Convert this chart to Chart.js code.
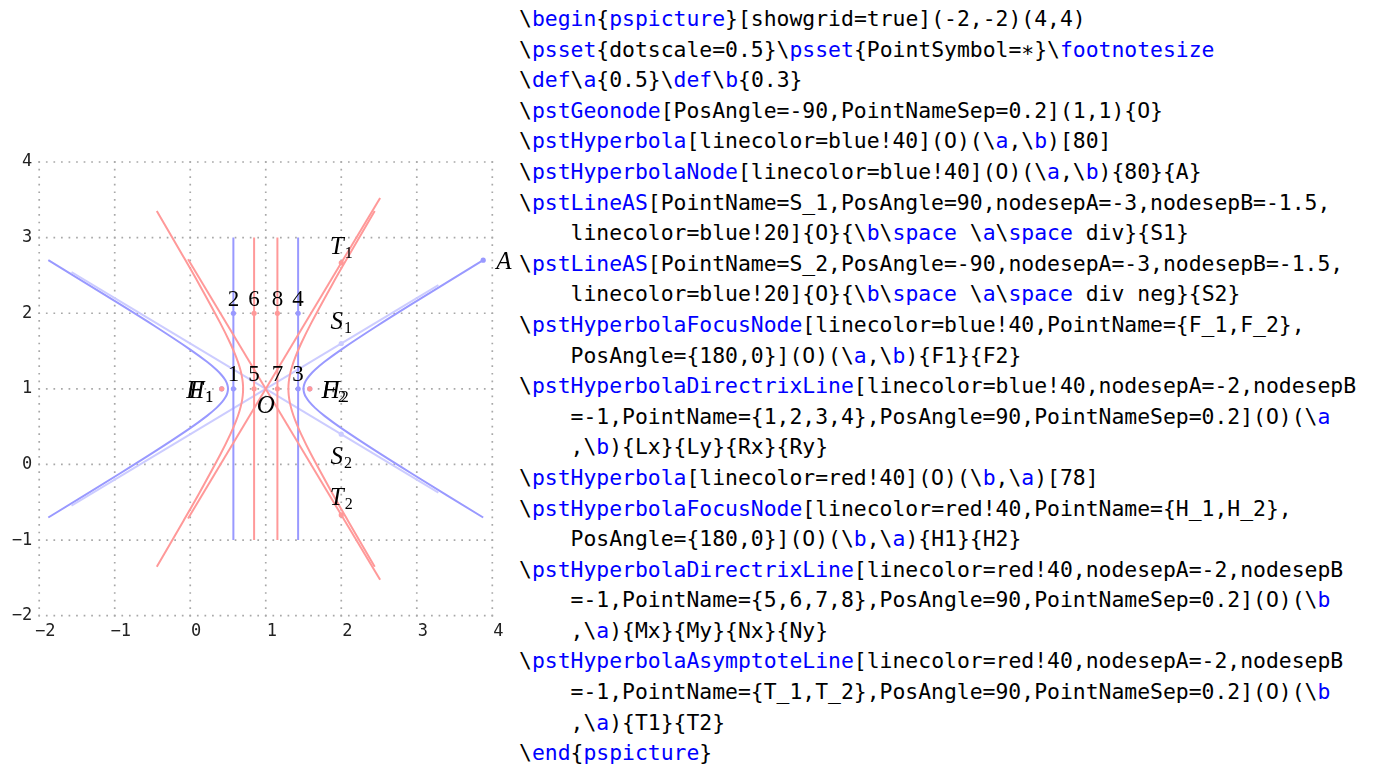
<!DOCTYPE html>
<html>
<head>
<meta charset="utf-8">
<script src="https://cdn.jsdelivr.net/npm/chart.js@4.4.1/dist/chart.umd.min.js"></script>
<style>
  html,body{margin:0;padding:0;background:#fff;}
  #wrap{position:absolute;left:0;top:0;width:518px;height:769px;}
  #code{position:absolute;left:519px;top:4px;margin:0;font-family:"DejaVu Sans Mono",monospace;font-size:21.4px;line-height:30.6px;color:#000;white-space:pre;}
  .k{color:#0000ff;}
</style>
</head>
<body>
<div id="wrap"><canvas id="c" width="518" height="769"></canvas></div>
<pre id="code"></pre>
<script type="text/plain" id="src">\begin{pspicture}[showgrid=true](-2,-2)(4,4)
\psset{dotscale=0.5}\psset{PointSymbol=∗}\footnotesize
\def\a{0.5}\def\b{0.3}
\pstGeonode[PosAngle=-90,PointNameSep=0.2](1,1){O}
\pstHyperbola[linecolor=blue!40](O)(\a,\b)[80]
\pstHyperbolaNode[linecolor=blue!40](O)(\a,\b){80}{A}
\pstLineAS[PointName=S_1,PosAngle=90,nodesepA=-3,nodesepB=-1.5,
    linecolor=blue!20]{O}{\b\space \a\space div}{S1}
\pstLineAS[PointName=S_2,PosAngle=-90,nodesepA=-3,nodesepB=-1.5,
    linecolor=blue!20]{O}{\b\space \a\space div neg}{S2}
\pstHyperbolaFocusNode[linecolor=blue!40,PointName={F_1,F_2},
    PosAngle={180,0}](O)(\a,\b){F1}{F2}
\pstHyperbolaDirectrixLine[linecolor=blue!40,nodesepA=-2,nodesepB
    =-1,PointName={1,2,3,4},PosAngle=90,PointNameSep=0.2](O)(\a
    ,\b){Lx}{Ly}{Rx}{Ry}
\pstHyperbola[linecolor=red!40](O)(\b,\a)[78]
\pstHyperbolaFocusNode[linecolor=red!40,PointName={H_1,H_2},
    PosAngle={180,0}](O)(\b,\a){H1}{H2}
\pstHyperbolaDirectrixLine[linecolor=red!40,nodesepA=-2,nodesepB
    =-1,PointName={5,6,7,8},PosAngle=90,PointNameSep=0.2](O)(\b
    ,\a){Mx}{My}{Nx}{Ny}
\pstHyperbolaAsymptoteLine[linecolor=red!40,nodesepA=-2,nodesepB
    =-1,PointName={T_1,T_2},PosAngle=90,PointNameSep=0.2](O)(\b
    ,\a){T1}{T2}
\end{pspicture}</script>
<script>
// ---------- data ----------
const xTickValues = [-2, -1, 0, 1, 2, 3, 4];
const yTickValues = [-2, -1, 0, 1, 2, 3, 4];
const xTickLabels = ['−2', '−1', '0', '1', '2', '3', '4'];
const yTickLabels = ['−2', '−1', '0', '1', '2', '3', '4'];

// blue hyperbola (centre O, a=0.5, b=0.3), both branches
const blueRightX = [3.8794, 2.9319, 2.4619, 2.0, 1.7779, 1.6527, 1.5774, 1.5321, 1.5077, 1.5, 1.5077, 1.5321, 1.5774, 1.6527, 1.7779, 2.0, 2.4619, 2.9319, 3.8794];
const blueLeftX  = [-1.8794, -0.9319, -0.4619, 0.0, 0.2221, 0.3473, 0.4226, 0.4679, 0.4923, 0.5, 0.4923, 0.4679, 0.4226, 0.3473, 0.2221, 0.0, -0.4619, -0.9319, -1.8794];
const blueY      = [-0.7014, -0.1196, 0.1758, 0.4804, 0.6425, 0.7483, 0.8268, 0.8908, 0.9471, 1.0, 1.0529, 1.1092, 1.1732, 1.2517, 1.3575, 1.5196, 1.8242, 2.1196, 2.7014];

// red hyperbola (centre O, a=0.3, b=0.5), both branches
const redRightX = [2.4429, 2.0884, 1.8771, 1.6, 1.4667, 1.3916, 1.3464, 1.3193, 1.3046, 1.3, 1.3046, 1.3193, 1.3464, 1.3916, 1.4667, 1.6, 1.8771, 2.0884, 2.4429];
const redLeftX  = [-0.4429, -0.0884, 0.1229, 0.4, 0.5333, 0.6084, 0.6536, 0.6807, 0.6954, 0.7, 0.6954, 0.6807, 0.6536, 0.6084, 0.5333, 0.4, 0.1229, -0.0884, -0.4429];
const redY      = [-1.3523, -0.7437, -0.3737, 0.1340, 0.4041, 0.5804, 0.7113, 0.8180, 0.9118, 1.0, 1.0882, 1.1820, 1.2887, 1.4196, 1.5959, 1.8660, 2.3737, 2.7437, 3.3523];

// straight lines [x0, x1], [y0, y1]
const s1LineX = [-1.5725, 3.2862], s1LineY = [-0.5435, 2.3717];
const s2LineX = [-1.5725, 3.2862], s2LineY = [2.5435, -0.3717];
const blueDirLX = [0.5713, 0.5713], blueDirRX = [1.4287, 1.4287], dirY = [-1, 3];
const redDirMX = [0.8457, 0.8457], redDirNX = [1.1543, 1.1543];
const t1LineX = [-0.0290, 2.5145], t1LineY = [-0.7150, 3.5242];
const t2LineX = [-0.0290, 2.5145], t2LineY = [2.7150, -1.5242];

// named points
const pointA   = {x: 3.8794, y: 2.7014};
const pointO   = {x: 1, y: 1};
const pointS1  = {x: 2, y: 1.6};
const pointS2  = {x: 2, y: 0.4};
const fociX    = [0.4169, 1.5831], fociY = [1, 1];
const blueDirPtsX = [0.5713, 0.5713, 1.4287, 1.4287], blueDirPtsY = [1, 2, 1, 2], blueDirNames = ['1', '2', '3', '4'];
const redDirPtsX  = [0.8457, 0.8457, 1.1543, 1.1543], redDirPtsY  = [1, 2, 1, 2], redDirNames  = ['5', '6', '7', '8'];
const pointT1  = {x: 2, y: 2.6667};
const pointT2  = {x: 2, y: -0.6667};

// ---------- styles ----------
const BLUE40 = '#9999ff', BLUE20 = '#ccccff', RED40 = '#ff9999';
const zip = (xs, ys) => xs.map((x, i) => ({x, y: ys[i]}));

const items = [];
function addLine(xs, ys, color, curved) {
  items.push({data: zip(xs, ys), showLine: true, borderColor: color, borderWidth: 2, pointRadius: 0,
              pointHoverRadius: 0, fill: false, tension: curved ? 0.35 : 0});
}
function addDots(pts, color) {
  items.push({data: pts, showLine: false, pointRadius: 2.6, pointHoverRadius: 2.6,
              pointBackgroundColor: color, pointBorderWidth: 0, borderColor: color});
}
addLine(blueLeftX, blueY, BLUE40, true);
addLine(blueRightX, blueY, BLUE40, true);
addDots([pointA], BLUE40);
addLine(s1LineX, s1LineY, BLUE20, false); addDots([pointS1], BLUE20);
addLine(s2LineX, s2LineY, BLUE20, false); addDots([pointS2], BLUE20);
addDots(zip(fociX, fociY), BLUE40);
addLine(blueDirLX, dirY, BLUE40, false); addLine(blueDirRX, dirY, BLUE40, false);
addDots(zip(blueDirPtsX, blueDirPtsY), BLUE40);
addLine(redLeftX, redY, RED40, true);
addLine(redRightX, redY, RED40, true);
addDots(zip(fociX, fociY), RED40);
addLine(redDirMX, dirY, RED40, false); addLine(redDirNX, dirY, RED40, false);
addDots(zip(redDirPtsX, redDirPtsY), RED40);
addLine(t1LineX, t1LineY, RED40, false);
addLine(t2LineX, t2LineY, RED40, false);
addDots([pointT1, pointT2], RED40);
const N = items.length;
items.forEach((d, i) => d.order = N - i);

// dotted grid drawn on the library's scales
const gridPlugin = {
  id: 'dotgrid',
  beforeDatasetsDraw(chart) {
    const {ctx, chartArea: a, scales: {x, y}} = chart;
    const stepX = x.getPixelForValue(0.1) - x.getPixelForValue(0);
    const stepY = y.getPixelForValue(0) - y.getPixelForValue(0.1);
    const d = 1.7;
    ctx.save();
    ctx.strokeStyle = '#a8a8a8';
    ctx.lineWidth = d;
    ctx.setLineDash([d, stepY - d]);
    xTickValues.forEach(v => {
      const px = x.getPixelForValue(v);
      ctx.beginPath(); ctx.moveTo(px, a.top - d / 2); ctx.lineTo(px, a.bottom + d); ctx.stroke();
    });
    ctx.setLineDash([d, stepX - d]);
    yTickValues.forEach(v => {
      const py = y.getPixelForValue(v);
      ctx.beginPath(); ctx.moveTo(a.left - d / 2, py); ctx.lineTo(a.right + d, py); ctx.stroke();
    });
    ctx.restore();
  }
};

function drawName(ctx, main, sub, px, py, mode, italic) {
  const mf = italic ? 'italic 25px "Liberation Serif"' : '23px "Liberation Serif"';
  const sf = '16px "Liberation Serif"';
  ctx.font = mf; const mw = ctx.measureText(main).width;
  ctx.font = sf; const sw = sub ? ctx.measureText(sub).width + 1 : 0;
  const w = mw + sw;
  const left = mode === 'center' ? px - w / 2 : (mode === 'right' ? px - w : px);
  ctx.textAlign = 'left'; ctx.textBaseline = 'alphabetic';
  ctx.font = mf; ctx.fillText(main, left, py + (italic ? 8 : 7.5));
  if (sub) { ctx.font = sf; ctx.fillText(sub, left + mw + 1, py + 12); }
}

const labelPlugin = {
  id: 'names',
  afterDatasetsDraw(chart) {
    const {ctx, scales: {x, y}} = chart;
    const P = p => [x.getPixelForValue(p.x), y.getPixelForValue(p.y)];
    ctx.save();
    ctx.fillStyle = '#000';
    let q;
    q = P(pointO);  drawName(ctx, 'O', '', q[0], q[1] + 16.5, 'center', true);
    q = P(pointA);  drawName(ctx, 'A', '', q[0] + 13, q[1] + 1, 'left', true);
    q = P(pointS1); drawName(ctx, 'S', '1', q[0], q[1] - 22, 'center', true);
    q = P(pointS2); drawName(ctx, 'S', '2', q[0], q[1] + 22, 'center', true);
    q = P(pointT1); drawName(ctx, 'T', '1', q[0], q[1] - 17, 'center', true);
    q = P(pointT2); drawName(ctx, 'T', '2', q[0], q[1] - 18, 'center', true);
    const f1 = P({x: fociX[0], y: fociY[0]}), f2 = P({x: fociX[1], y: fociY[1]});
    ['F', 'H'].forEach(L => {
      drawName(ctx, L, '1', f1[0] - 8.5, f1[1] + 1.5, 'right', true);
      drawName(ctx, L, '2', f2[0] + 12, f2[1] + 1.5, 'left', true);
    });
    blueDirNames.forEach((n, i) => { q = P({x: blueDirPtsX[i], y: blueDirPtsY[i]}); drawName(ctx, n, '', q[0], q[1] - 15, 'center', false); });
    redDirNames.forEach((n, i) => { q = P({x: redDirPtsX[i], y: redDirPtsY[i]}); drawName(ctx, n, '', q[0], q[1] - 15, 'center', false); });
    ctx.restore();
  }
};

const tickFont = {family: '"DejaVu Sans Mono"', size: 17};
new Chart(document.getElementById('c'), {
  type: 'scatter',
  data: {datasets: items},
  options: {
    responsive: false, animation: false, devicePixelRatio: 1,
    events: [],
    layout: {padding: {left: 0, right: 25.7, top: 162, bottom: 123.3}},
    plugins: {legend: {display: false}, tooltip: {enabled: false}},
    scales: {
      x: {
        type: 'linear', min: -2, max: 4,
        grid: {display: false, drawTicks: false}, border: {display: false},
        afterBuildTicks: s => { s.ticks = xTickValues.map(v => ({value: v})); },
        afterFit: s => { s.height = 30; },
        ticks: {autoSkip: false, maxRotation: 0, padding: 6, labelOffset: 6, color: '#222', font: tickFont,
                callback: v => xTickLabels[xTickValues.indexOf(v)]}
      },
      y: {
        type: 'linear', min: -2, max: 4,
        grid: {display: false, drawTicks: false}, border: {display: false},
        afterBuildTicks: s => { s.ticks = yTickValues.map(v => ({value: v})); },
        afterFit: s => { s.width = 39.2; },
        ticks: {autoSkip: false, padding: 7, color: '#222', font: tickFont,
                callback: v => yTickLabels[yTickValues.indexOf(v)]}
      }
    }
  },
  plugins: [gridPlugin, labelPlugin]
});

// code listing
const src = document.getElementById('src').textContent;
const esc = src.replace(/&/g, '&amp;').replace(/</g, '&lt;').replace(/>/g, '&gt;');
const hl = esc.replace(/\\([A-Za-z]+)/g, '\\<span class="k">$1</span>')
              .replace(/\{pspicture\}/g, '{<span class="k">pspicture</span>}');
document.getElementById('code').innerHTML = hl;
</script>
</body>
</html>
